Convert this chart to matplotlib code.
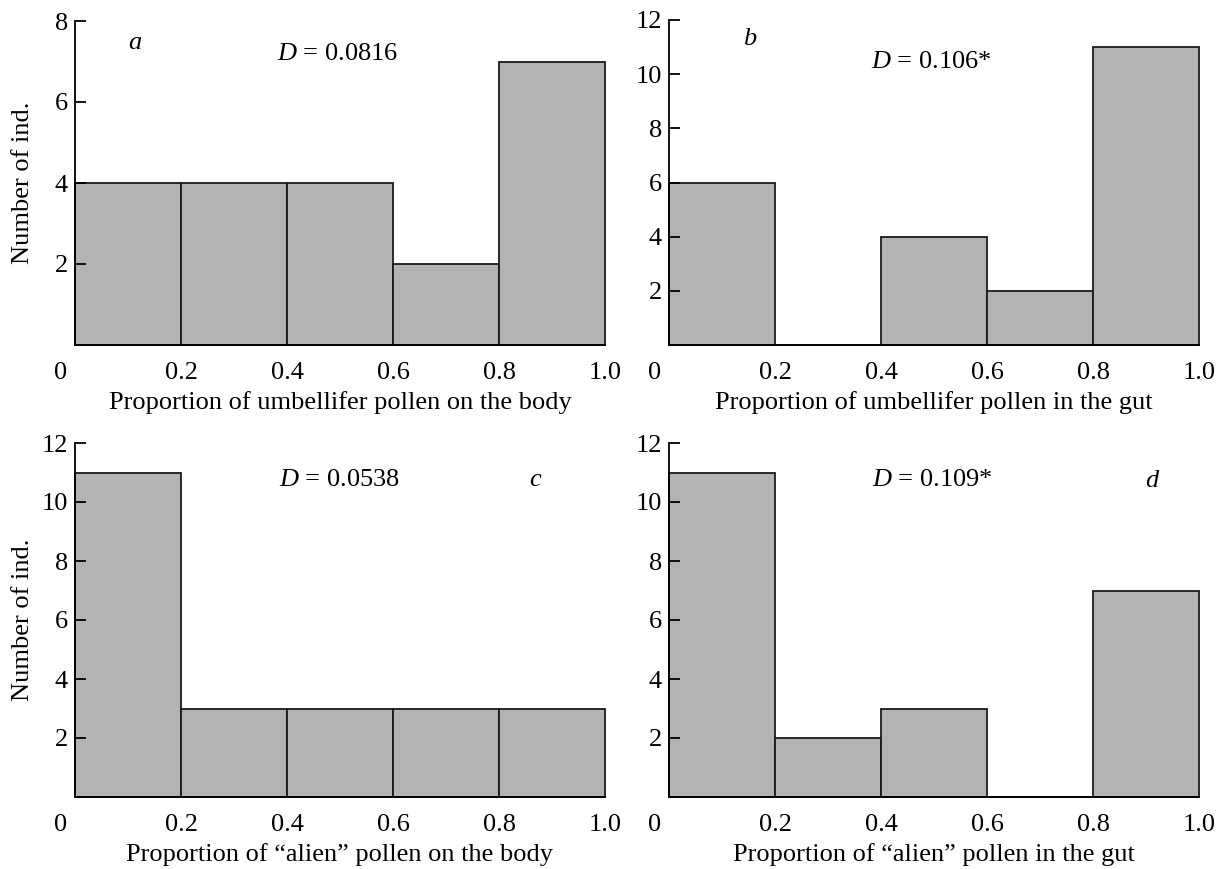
import matplotlib
matplotlib.use("Agg")
import matplotlib.pyplot as plt
from matplotlib.transforms import ScaledTranslation

plt.rcParams['font.family'] = ['Liberation Serif', 'DejaVu Serif']
plt.rcParams['mathtext.fontset'] = 'custom'
plt.rcParams['mathtext.rm'] = 'Liberation Serif'
plt.rcParams['mathtext.it'] = 'Liberation Serif:italic'

bin_edges = [0.0, 0.2, 0.4, 0.6, 0.8, 1.0]
counts_a = [4, 4, 4, 2, 7]
counts_b = [6, 0, 4, 2, 11]
counts_c = [11, 3, 3, 3, 3]
counts_d = [11, 2, 3, 0, 7]
x_tick_labels = ["0", "0.2", "0.4", "0.6", "0.8", "1.0"]
xlabels = ["Proportion of umbellifer pollen on the body",
           "Proportion of umbellifer pollen in the gut",
           "Proportion of \u201calien\u201d pollen on the body",
           "Proportion of \u201calien\u201d pollen in the gut"]
d_texts = ["$D$ = 0.0816", "$D$ = 0.106*", "$D$ = 0.0538", "$D$ = 0.109*"]
panel_letters = ["a", "b", "c", "d"]
ymaxes = [8, 12, 12, 12]
ylabel = "Number of ind."

W, H = 1220, 869
fig = plt.figure(figsize=(12.2, 8.69), dpi=100)

# axes boxes in pixels: (left, right, top, bottom)
boxes = [(75, 605, 21, 345), (669, 1199, 20, 345),
         (75, 605, 443, 797), (669, 1199, 443, 797)]
# text anchor points in pixels
letter_px = [(135, 43), (750, 39), (535, 480), (1152, 481)]
d_px = [(338, 54), (931, 62), (339, 480), (932, 480)]
counts_all = [counts_a, counts_b, counts_c, counts_d]

fs = 19
for i in range(4):
    l, r, t, b = boxes[i]
    ax = fig.add_axes([l / W, 1 - b / H, (r - l) / W, (b - t) / H])
    counts = counts_all[i]
    lefts = bin_edges[:-1]
    widths = [bin_edges[k + 1] - bin_edges[k] for k in range(len(counts))]
    bars = ax.bar(lefts, counts, width=widths, align='edge', color='#b3b3b3',
                  edgecolor='#1a1a1a', linewidth=1.3)
    for p in bars:
        p.set_clip_on(False)
    ax.set_xlim(0, 1.0)
    ax.set_ylim(0, ymaxes[i])
    ax.set_yticks(list(range(2, ymaxes[i] + 1, 2)))
    ax.set_xticks(bin_edges)
    ax.set_xticklabels(x_tick_labels)
    for sp in ['top', 'right']:
        ax.spines[sp].set_visible(False)
    ax.spines['left'].set_linewidth(1.3)
    ax.spines['bottom'].set_linewidth(1.3)
    ax.tick_params(axis='y', direction='in', length=8, width=1.3, labelsize=fs, pad=5)
    ax.tick_params(axis='x', length=0, labelsize=fs, pad=12)
    lab0 = ax.get_xticklabels()[0]
    lab0.set_transform(lab0.get_transform() + ScaledTranslation(-0.14, 0, fig.dpi_scale_trans))
    ax.set_xlabel(xlabels[i], fontsize=fs, labelpad=5)
    if i in (0, 2):
        ax.set_ylabel(ylabel, fontsize=fs)
        ax.yaxis.set_label_coords((34 - l) / (r - l), 0.5)
    lx, ly = letter_px[i]
    ax.text((lx - l) / (r - l), (b - ly) / (b - t), panel_letters[i], transform=ax.transAxes,
            fontsize=fs, style='italic', ha='center', va='center')
    dx, dy = d_px[i]
    ax.text((dx - l) / (r - l), (b - dy) / (b - t), d_texts[i], transform=ax.transAxes,
            fontsize=fs, ha='center', va='center')

fig.savefig("out.png", dpi=100)
